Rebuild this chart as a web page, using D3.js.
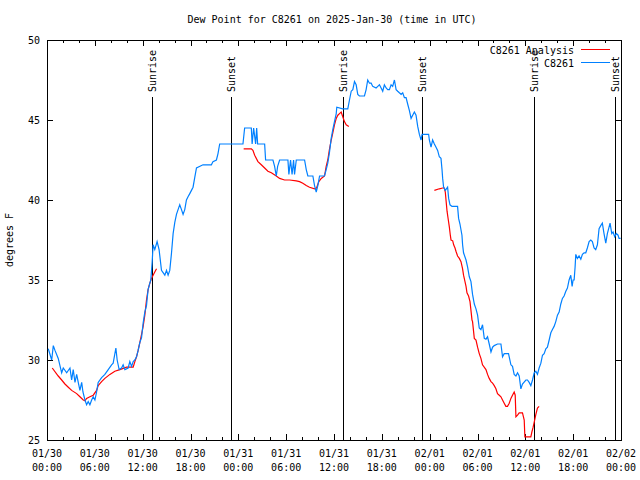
<!DOCTYPE html>
<html>
<head>
<meta charset="utf-8">
<script src="https://cdn.jsdelivr.net/npm/d3@7"></script>
<style>
  html, body { margin: 0; padding: 0; background: #fff; }
  svg { display: block; }
  text { font-family: "DejaVu Sans Mono", monospace; font-size: 10px; fill: #000; }
</style>
</head>
<body>
<svg id="chart" width="640" height="480"></svg>
<script>
// ---------------- DATA ----------------
const chartTitle = "Dew Point for C8261 on 2025-Jan-30 (time in UTC)";
const yLabel = "degrees F";
const seriesNames = ["C8261 Analysis", "C8261"];

// x tick labels (every 6 hours from 01/30 00:00 UTC)
const tickHours = [0, 6, 12, 18, 24, 30, 36, 42, 48, 54, 60, 66, 72];
const tickDates = ["01/30","01/30","01/30","01/30","01/31","01/31","01/31","01/31","02/01","02/01","02/01","02/01","02/02"];
const tickTimes = ["00:00","06:00","12:00","18:00","00:00","06:00","12:00","18:00","00:00","06:00","12:00","18:00","00:00"];
const yTicks = [25, 30, 35, 40, 45, 50];

// sun events (hours since 01/30 00:00 UTC)
const sunHours = [13.13, 23.08, 37.12, 47.1, 61.05, 71.22];
const sunLabels = ["Sunrise", "Sunset", "Sunrise", "Sunset", "Sunrise", "Sunset"];

// observed dew point (C8261)
const obsHours = [0.16,0.59,0.79,1.00,1.41,1.84,2.04,2.47,2.88,3.09,3.29,3.51,3.72,3.92,4.13,4.35,4.51,4.76,4.97,5.17,5.38,5.60,5.80,6.01,6.22,6.42,6.85,7.26,7.68,8.10,8.30,8.64,8.80,9.05,9.35,9.55,9.77,10.18,10.39,10.61,10.81,11.02,11.23,11.43,11.65,11.86,12.06,12.27,12.48,12.68,12.90,13.02,13.19,13.31,13.52,13.81,14.06,14.36,14.78,14.99,15.19,15.40,15.62,15.82,16.03,16.24,16.44,16.65,16.87,17.07,17.28,17.49,17.69,17.91,18.12,18.32,18.53,18.75,19.57,20.62,20.82,21.25,21.45,21.66,24.58,24.79,25.63,25.73,25.92,26.17,26.30,26.42,27.30,27.42,28.34,28.55,28.76,28.93,29.18,30.22,30.34,30.55,30.74,30.93,31.05,31.27,32.31,32.52,32.72,33.35,33.56,33.77,33.97,34.19,34.81,35.02,35.22,35.44,35.65,35.85,36.06,36.28,36.35,37.10,37.73,37.94,38.16,38.36,38.57,38.78,38.98,39.19,39.82,40.03,40.23,40.45,40.66,40.86,41.28,41.49,41.70,41.91,42.11,42.32,42.54,42.74,42.95,43.16,43.36,43.58,43.79,43.99,44.20,44.42,44.62,44.83,45.04,45.24,45.45,45.67,45.87,46.08,46.29,46.50,46.71,46.92,47.05,47.33,47.87,47.96,48.17,48.37,48.59,48.80,49.00,49.21,49.42,49.55,49.63,49.75,49.96,50.25,50.38,50.55,50.80,51.50,51.63,51.80,52.05,52.13,52.25,52.56,52.76,52.97,53.18,53.38,53.60,53.81,54.01,54.22,54.43,54.63,54.85,55.06,55.26,55.47,55.69,55.89,56.10,56.51,56.94,57.14,57.35,57.89,58.19,58.39,58.60,58.82,59.02,59.23,59.44,59.64,60.07,60.27,60.48,60.69,60.90,61.11,61.32,61.52,61.73,61.95,62.15,62.36,62.57,62.77,62.99,63.20,63.40,63.61,63.82,64.03,64.24,64.45,64.65,64.86,65.08,65.28,65.49,65.70,65.87,65.99,66.12,66.24,66.33,66.53,66.74,66.96,67.16,67.37,67.58,67.78,68.00,68.21,68.41,68.62,68.83,69.04,69.25,69.46,69.66,69.87,70.09,70.29,70.50,70.63,70.84,71.00,71.21,71.41,71.63,71.75,71.95];
const obsValues = [30.7,30.0,30.9,30.6,30.1,29.2,29.5,29.2,29.5,28.75,29.4,28.6,29.1,28.6,28.1,28.6,28.0,27.5,27.2,27.4,27.2,27.5,27.7,27.5,28.0,28.6,28.9,29.1,29.4,29.7,29.8,30.75,30.0,29.4,29.5,29.7,29.4,29.5,29.9,29.6,29.9,30.0,30.2,30.6,31.1,31.4,32.3,33.0,33.4,34.4,34.8,35.0,36.1,37.2,36.9,37.4,36.9,35.6,35.3,35.6,35.3,35.6,36.7,37.9,38.6,39.1,39.4,39.7,39.4,39.1,39.4,40.0,40.2,40.4,40.6,40.8,41.4,42.0,42.2,42.2,42.4,42.5,42.9,43.5,43.5,44.5,44.5,43.5,44.5,43.5,44.5,43.5,43.5,42.5,42.5,42.1,41.5,42.1,42.5,42.5,41.6,42.5,41.6,42.5,41.6,42.5,42.5,41.9,41.5,41.5,40.9,40.5,40.9,41.5,41.5,41.9,42.3,43.0,43.85,44.4,44.9,45.4,45.8,45.7,45.7,46.25,46.8,46.9,47.4,47.2,46.6,46.5,46.5,46.9,47.5,47.3,47.3,47.1,47.0,47.1,47.2,47.0,46.8,47.2,47.0,46.9,46.9,47.2,47.1,47.5,46.9,46.8,46.7,46.6,46.7,46.4,46.4,46.0,45.6,45.1,45.3,45.5,45.3,44.6,44.1,43.75,44.1,44.1,44.1,43.75,43.3,43.75,43.5,43.3,43.1,42.7,42.6,41.9,41.35,40.8,40.6,40.8,40.1,39.7,39.6,39.6,38.85,38.5,37.8,37.2,36.7,36.25,35.8,35.2,34.9,34.1,33.5,33.2,32.8,32.0,31.9,32.2,31.35,31.3,31.45,31.0,30.5,30.8,30.9,31.0,31.0,30.2,30.4,30.4,29.7,29.6,29.1,29.0,29.2,29.0,28.2,28.5,28.75,28.75,28.6,28.4,28.75,29.2,29.3,29.1,29.5,29.8,30.3,30.4,30.7,30.8,31.25,31.7,31.9,32.1,32.4,32.8,33.0,33.5,33.85,34.0,34.3,34.5,35.0,35.3,34.6,35.0,35.0,35.8,36.6,36.35,36.5,36.3,36.6,36.7,36.7,37.0,37.4,37.5,37.4,37.0,36.9,37.2,38.2,38.4,38.55,37.9,37.3,37.9,38.3,38.55,37.9,38.0,37.7,37.9,37.8,37.6,37.6];

// analysis dew point (C8261 Analysis); null marks a gap between runs
const anaHours = [0.66,1.41,1.84,2.25,2.67,3.09,3.72,4.13,4.55,4.76,4.97,5.38,5.80,6.22,6.42,6.85,7.26,7.89,8.51,9.14,9.98,10.81,11.02,11.23,11.43,11.65,11.86,12.06,12.27,12.48,12.68,12.90,13.11,13.31,13.52,13.74,
  null,
  24.67,25.63,25.83,26.05,26.46,26.88,27.30,27.71,28.14,28.76,29.18,29.80,30.43,31.27,31.68,32.09,32.52,32.93,33.56,33.81,34.10,34.40,34.81,35.02,35.22,35.44,35.65,35.85,36.06,36.28,36.48,36.69,36.90,37.10,37.31,37.53,37.86,
  null,
  48.59,49.21,49.63,49.84,49.96,50.05,50.18,50.34,50.47,50.59,50.68,50.89,51.01,51.18,51.30,51.50,51.72,51.93,52.13,52.25,52.43,52.56,52.68,52.88,53.06,53.18,53.31,53.38,53.60,53.81,54.01,54.22,54.43,54.63,55.06,55.26,55.47,55.69,55.89,56.10,56.31,56.51,56.73,56.94,57.14,57.35,57.56,57.76,57.98,58.19,58.39,58.60,58.73,58.82,59.02,59.23,59.64,59.86,59.94,60.69,60.82,60.98,61.11,61.32,61.52,61.73];
const anaValues = [29.5,29.0,28.75,28.5,28.3,28.1,27.9,27.7,27.5,27.45,27.6,27.7,27.8,28.1,28.4,28.65,28.85,29.1,29.3,29.4,29.55,29.55,29.9,30.2,30.6,31.1,31.6,32.1,32.8,33.75,34.4,34.8,35.1,35.3,35.5,35.7,
  null,
  43.2,43.2,43.1,42.8,42.4,42.2,42.0,41.8,41.7,41.5,41.35,41.25,41.25,41.2,41.15,41.05,40.9,40.8,40.7,40.75,41.15,41.35,41.5,42.1,42.5,43.2,43.75,44.2,44.7,45.1,45.3,45.4,45.5,45.2,44.9,44.7,44.6,
  null,
  40.6,40.7,40.75,40.75,40.5,40.0,39.3,38.75,38.3,37.8,37.5,37.45,37.2,37.0,36.8,36.5,36.35,36.15,35.7,35.3,34.9,34.6,34.2,34.0,33.65,33.1,32.5,32.4,31.35,31.25,30.8,30.4,30.1,29.7,29.4,29.1,28.85,28.65,28.55,28.4,28.2,27.9,27.8,27.7,27.5,27.3,27.1,27.1,27.3,27.6,27.8,28.0,27.8,26.45,26.55,26.7,26.7,26.25,25.2,25.2,25.5,25.8,26.1,26.6,27.0,27.1];

// ---------------- CHART ----------------
const svg = d3.select("#chart");
const plotLeft = 47, plotRight = 621, plotTop = 40, plotBottom = 440;

const x = d3.scaleLinear().domain([0, 72]).range([plotLeft, plotRight]);
const y = d3.scaleLinear().domain([25, 50]).range([plotBottom, plotTop]);

// title
svg.append("text").attr("x", 332).attr("y", 23).attr("text-anchor", "middle").text(chartTitle);

// y label
svg.append("text")
  .attr("transform", "translate(13,240) rotate(-90)")
  .attr("text-anchor", "middle").text(yLabel);

const g = svg.append("g").attr("shape-rendering", "crispEdges");

// minor/major x ticks every 2 hours (bottom and top, inward)
const minorHours = d3.range(0, 73, 2);
minorHours.forEach(h => {
  const len = (h % 6 === 0) ? 6 : 3;
  const xx = Math.round(x(h)) + 0.5;
  g.append("line").attr("x1", xx).attr("x2", xx).attr("y1", plotBottom).attr("y2", plotBottom - len).attr("stroke", "#000");
  g.append("line").attr("x1", xx).attr("x2", xx).attr("y1", plotTop).attr("y2", plotTop + len).attr("stroke", "#000");
});

// y ticks (left and right, inward)
yTicks.forEach(v => {
  const yy = Math.round(y(v)) + 0.5;
  g.append("line").attr("x1", plotLeft).attr("x2", plotLeft + 6).attr("y1", yy).attr("y2", yy).attr("stroke", "#000");
  g.append("line").attr("x1", plotRight - 6).attr("x2", plotRight).attr("y1", yy).attr("y2", yy).attr("stroke", "#000");
  svg.append("text").attr("x", 40).attr("y", y(v) + 4).attr("text-anchor", "end").text(v);
});

// x tick labels
tickHours.forEach((h, i) => {
  const t = svg.append("text").attr("x", x(h)).attr("text-anchor", "middle");
  t.append("tspan").attr("x", x(h)).attr("y", 457).text(tickDates[i]);
  t.append("tspan").attr("x", x(h)).attr("y", 471).text(tickTimes[i]);
});

// sunrise / sunset lines and labels
sunHours.forEach((h, i) => {
  const xx = Math.round(x(h)) + 0.5;
  g.append("line").attr("x1", xx).attr("x2", xx).attr("y1", 97).attr("y2", plotBottom).attr("stroke", "#000");
  svg.append("text")
    .attr("transform", `translate(${x(h) + 4},92) rotate(-90)`)
    .attr("text-anchor", "start").text(sunLabels[i]);
});

// data lines
const anaData = anaHours.map((h, i) => ({h, v: anaValues[i]}));
const obsData = obsHours.map((h, i) => ({h, v: obsValues[i]}));
const line = d3.line().defined(d => d.h !== null && d.v !== null).x(d => x(d.h)).y(d => y(d.v));

svg.append("path").datum(anaData).attr("d", line)
  .attr("fill", "none").attr("stroke", "#ff0000").attr("stroke-width", 1.2);
svg.append("path").datum(obsData).attr("d", line)
  .attr("fill", "none").attr("stroke", "#0080ff").attr("stroke-width", 1.2);

// legend
svg.append("text").attr("x", 574).attr("y", 54).attr("text-anchor", "end").text(seriesNames[0]);
g.append("line").attr("x1", 581).attr("x2", 610).attr("y1", 49.5).attr("y2", 49.5).attr("stroke", "#ff0000");
svg.append("text").attr("x", 574).attr("y", 67).attr("text-anchor", "end").text(seriesNames[1]);
g.append("line").attr("x1", 581).attr("x2", 610).attr("y1", 62.5).attr("y2", 62.5).attr("stroke", "#0080ff");

// border
g.append("rect").attr("x", plotLeft + 0.5).attr("y", plotTop + 0.5)
  .attr("width", plotRight - plotLeft).attr("height", plotBottom - plotTop)
  .attr("fill", "none").attr("stroke", "#000");
</script>
</body>
</html>
